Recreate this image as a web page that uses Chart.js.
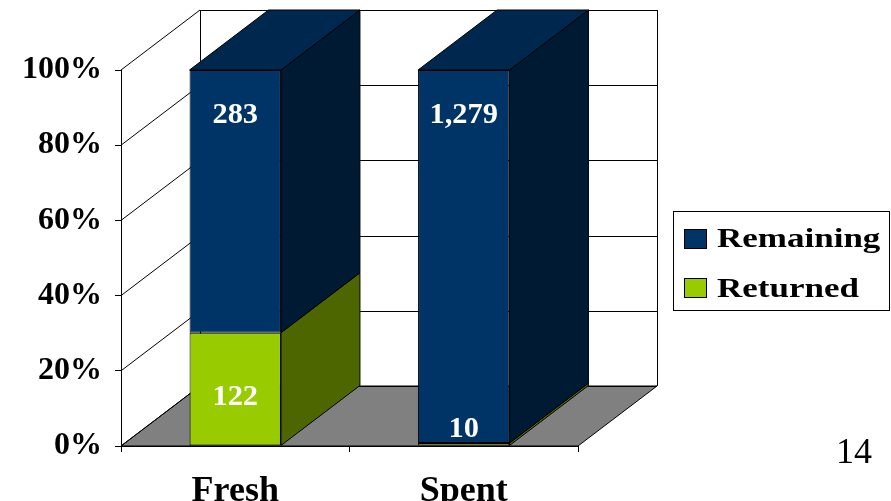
<!DOCTYPE html>
<html>
<head>
<meta charset="utf-8">
<script src="https://cdn.jsdelivr.net/npm/chart.js@4/dist/chart.umd.min.js"></script>
<style>
  body { margin: 0; background: #fff; }
  canvas { display: block; }
</style>
</head>
<body>
<canvas id="returns-chart" width="891" height="501"></canvas>
<script>
const categories = ['Fresh', 'Spent']
const returned = [122, 10]
const remaining = [283, 1279]
const yTicks = [0, 20, 40, 60, 80, 100]
const seriesNames = ['Returned', 'Remaining']
const pageNumber = '14'

const serif = '"Liberation Serif", "Times New Roman", serif'
const frontColors = ['#99cc00', '#003366']
const sideColors = ['#4d6600', '#001a33']
const topColor = '#00284f'
const depthX = 79
const depthY = -60

const pct = (part, i) => part[i] / (returned[i] + remaining[i]) * 100

function crisp(v) { return Math.round(v) + 0.5 }

// text in the original is a bit wider than Liberation Serif, so stretch it
function wideText(ctx, text, x, y, sx) {
    ctx.save()
    ctx.translate(x, y)
    ctx.scale(sx, 1)
    ctx.fillText(text, 0, 0)
    ctx.restore()
}

const threeD = {
    id: 'threeD',
    beforeDraw(chart) {
        const ctx = chart.ctx
        const y = chart.scales.y
        const L = chart.chartArea.left, R = chart.chartArea.right
        const B = y.getPixelForValue(0), T = y.getPixelForValue(100)
        ctx.save()
        ctx.fillStyle = '#fff'
        ctx.fillRect(0, 0, chart.width, chart.height)
        ctx.strokeStyle = '#000'
        ctx.lineWidth = 1

        // floor
        ctx.beginPath()
        ctx.moveTo(L, B)
        ctx.lineTo(R, B)
        ctx.lineTo(R + depthX, B + depthY)
        ctx.lineTo(L + depthX, B + depthY)
        ctx.closePath()
        ctx.fillStyle = '#808080'
        ctx.fill()
        ctx.stroke()

        // back wall + side wall gridlines
        yTicks.forEach(v => {
            const py = y.getPixelForValue(v)
            ctx.beginPath()
            ctx.moveTo(L + depthX, crisp(py + depthY))
            ctx.lineTo(R + depthX, crisp(py + depthY))
            ctx.stroke()
            ctx.beginPath()
            ctx.moveTo(L, py)
            ctx.lineTo(L + depthX, py + depthY)
            ctx.stroke()
        })
        ctx.beginPath()
        ctx.moveTo(crisp(L + depthX), T + depthY)
        ctx.lineTo(crisp(L + depthX), B + depthY)
        ctx.moveTo(crisp(R + depthX), T + depthY)
        ctx.lineTo(crisp(R + depthX), B + depthY)
        ctx.stroke()
        ctx.restore()
    },
    beforeDatasetsDraw(chart) {
        const ctx = chart.ctx
        const last = chart.data.datasets.length - 1
        ctx.save()
        ctx.strokeStyle = '#000'
        ctx.lineWidth = 1
        chart.data.datasets.forEach((ds, di) => {
            chart.getDatasetMeta(di).data.forEach(bar => {
                const left = bar.x - bar.width / 2, right = bar.x + bar.width / 2
                const top = Math.min(bar.y, bar.base), bottom = Math.max(bar.y, bar.base)
                ctx.beginPath()
                ctx.moveTo(right, top)
                ctx.lineTo(right + depthX, top + depthY)
                ctx.lineTo(right + depthX, bottom + depthY)
                ctx.lineTo(right, bottom)
                ctx.closePath()
                ctx.fillStyle = sideColors[di]
                ctx.fill()
                ctx.stroke()
                if (di === last) {
                    ctx.beginPath()
                    ctx.moveTo(left, top)
                    ctx.lineTo(right, top)
                    ctx.lineTo(right + depthX, top + depthY)
                    ctx.lineTo(left + depthX, top + depthY)
                    ctx.closePath()
                    ctx.fillStyle = topColor
                    ctx.fill()
                    ctx.stroke()
                }
            })
        })
        ctx.restore()
    },
    afterDatasetsDraw(chart) {
        const ctx = chart.ctx
        ctx.save()
        // value labels
        ctx.fillStyle = '#fff'
        ctx.font = 'bold 29px ' + serif
        ctx.textAlign = 'center'
        ctx.textBaseline = 'middle'
        const raw = [returned, remaining]
        chart.data.datasets.forEach((ds, di) => {
            chart.getDatasetMeta(di).data.forEach((bar, i) => {
                const top = Math.min(bar.y, bar.base), bottom = Math.max(bar.y, bar.base)
                let ly
                if (di === 0) ly = Math.min((top + bottom) / 2 + 8, bottom - 16)
                else ly = top + 46
                wideText(ctx, raw[di][i].toLocaleString('en-US'), bar.x, ly, 1.05)
            })
        })

        // legend
        ctx.strokeStyle = '#000'
        ctx.lineWidth = 1
        ctx.strokeRect(673.5, 211.5, 216, 99)
        const legendItems = [[1, 229, 247], [0, 278, 297]]
        ctx.font = 'bold 28px ' + serif
        ctx.textAlign = 'left'
        ctx.textBaseline = 'alphabetic'
        legendItems.forEach(([di, top, base]) => {
            ctx.fillStyle = frontColors[di]
            ctx.fillRect(684.5, top + 0.5, 22, 19)
            ctx.strokeRect(684.5, top + 0.5, 22, 19)
            ctx.fillStyle = '#000'
            wideText(ctx, seriesNames[di], 717, base, 1.25)
        })

        // page number
        ctx.font = '36px ' + serif
        ctx.textAlign = 'center'
        ctx.fillText(pageNumber, 854, 463)
        ctx.restore()
    }
}

const ctx = document.getElementById('returns-chart').getContext('2d')
const chart = new Chart(ctx, {
    type: 'bar',
    data: {
        labels: categories,
        datasets: [{
            label: seriesNames[0],
            data: categories.map((c, i) => pct(returned, i)),
            backgroundColor: frontColors[0]
        }, {
            label: seriesNames[1],
            data: categories.map((c, i) => pct(remaining, i)),
            backgroundColor: frontColors[1]
        }].map(ds => Object.assign(ds, {
            borderColor: '#000',
            borderWidth: 1,
            borderSkipped: false,
            categoryPercentage: 1,
            barPercentage: 0.4
        }))
    },
    options: {
        responsive: false,
        animation: false,
        layout: { padding: { top: 70, right: 313, left: 0, bottom: 0 } },
        plugins: { legend: { display: false }, tooltip: { enabled: false } },
        scales: {
            x: {
                stacked: true,
                afterFit: s => { s.height = 55 },
                grid: { drawOnChartArea: false, tickLength: 6, color: '#000', offset: true },
                border: { color: '#000' },
                ticks: { color: '#000', padding: 18, font: { family: serif, size: 36, weight: 'bold' } }
            },
            y: {
                stacked: true,
                min: 0,
                max: 100,
                afterFit: s => { s.width = 121 },
                grid: { drawOnChartArea: false, tickLength: 6, color: '#000' },
                border: { color: '#000' },
                ticks: {
                    stepSize: 20,
                    color: '#000',
                    padding: 13,
                    font: { family: serif, size: 32, weight: 'bold' },
                    callback: v => yTicks.includes(v) ? v + '%' : ''
                }
            }
        }
    },
    plugins: [threeD]
})
</script>
</body>
</html>
